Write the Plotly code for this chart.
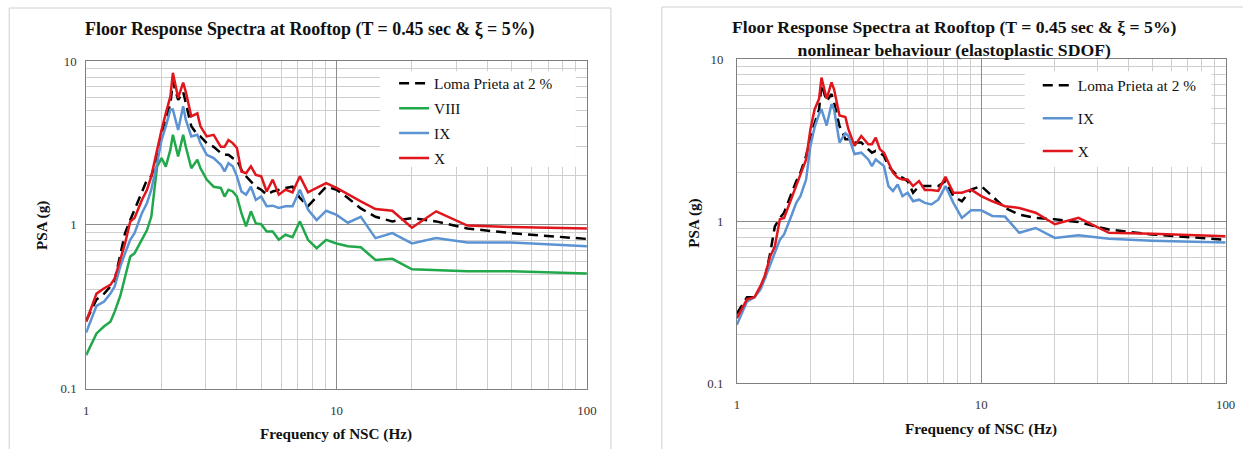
import plotly.graph_objects as go

# Frequency of NSC (Hz)
FREQ = [1.0, 1.1, 1.18, 1.25, 1.3, 1.37, 1.43, 1.5, 1.56, 1.67,
        1.75, 1.82, 1.92, 2.0, 2.08, 2.17, 2.22, 2.33, 2.44, 2.5,
        2.63, 2.78, 2.86, 3.03, 3.23, 3.45, 3.57, 3.7, 3.85, 4.0,
        4.17, 4.35, 4.55, 4.76, 5.0, 5.26, 5.56, 5.88, 6.25, 6.67,
        7.14, 7.69, 8.33, 9.09, 10.0, 11.1, 12.5, 14.3, 16.7, 20,
        25, 33.3, 50, 100]

# Left chart (PSA, g)
LP_LEFT = [0.26, 0.35, 0.38, 0.42, 0.46, 0.67, 0.89, 1.07, 1.24, 1.56,
           1.89, 1.98, 2.62, 3.64, 4.4, 5.5, 7.5, 5.8, 6.5, 5.5,
           4.0, 3.55, 3.47, 3.16, 3.0, 2.75, 2.68, 2.68, 2.56, 2.5,
           2.17, 1.98, 1.84, 1.71, 1.64, 1.53, 1.6, 1.64, 1.68, 1.71,
           1.46, 1.30, 1.49, 1.71, 1.64, 1.46, 1.26, 1.12, 1.05, 1.10,
           1.05, 0.95, 0.89, 0.82]
VIII_LEFT = [0.16, 0.217, 0.24, 0.256, 0.295, 0.37, 0.48, 0.64, 0.67, 0.81,
             0.93, 1.12, 2.27, 2.56, 2.27, 2.88, 3.55, 2.62, 3.55, 3.0,
             2.22, 2.5, 2.22, 1.89, 1.71, 1.68, 1.49, 1.64, 1.60, 1.49,
             1.18, 0.98, 1.21, 1.02, 1.01, 0.91, 0.91, 0.81, 0.87, 0.84,
             1.05, 0.81, 0.72, 0.81, 0.77, 0.74, 0.73, 0.61, 0.62, 0.535,
             0.53, 0.52, 0.52, 0.505]
IX_LEFT = [0.22, 0.32, 0.34, 0.38, 0.42, 0.56, 0.67, 0.81, 0.89, 1.18,
           1.36, 1.64, 2.38, 3.3, 4.0, 5.06, 5.06, 3.8, 5.3, 4.4,
           3.47, 3.55, 3.16, 2.68, 2.56, 2.33, 2.12, 2.38, 2.28, 1.98,
           1.6, 1.53, 1.71, 1.42, 1.49, 1.30, 1.31, 1.27, 1.30, 1.30,
           1.64, 1.24, 1.07, 1.22, 1.15, 1.03, 1.12, 0.83, 0.89, 0.77,
           0.83, 0.78, 0.78, 0.74]
X_LEFT = [0.256, 0.38, 0.41, 0.43, 0.47, 0.61, 0.77, 1.05, 1.10, 1.42,
          1.64, 1.98, 2.88, 3.8, 4.8, 6.1, 8.5, 5.97, 7.4, 6.5,
          4.6, 4.8, 4.0, 3.47, 3.55, 3.0, 3.0, 3.3, 3.16, 2.95,
          2.12, 2.07, 2.28, 2.02, 1.98, 1.6, 1.89, 1.53, 1.64, 1.58,
          1.98, 1.58, 1.68, 1.8, 1.68, 1.53, 1.39, 1.25, 1.22, 0.96,
          1.21, 0.99, 0.97, 0.95]

# Right chart (PSA, g) - nonlinear behaviour
LP_RIGHT = [0.27, 0.34, 0.34, 0.39, 0.44, 0.64, 0.93, 1.05, 1.13, 1.50,
            1.77, 2.0, 2.53, 3.36, 4.07, 4.9, 7.0, 5.5, 6.1, 5.4,
            3.87, 3.21, 3.21, 3.06, 3.06, 2.78, 2.65, 2.72, 2.65, 2.53,
            2.19, 2.04, 1.90, 1.86, 1.77, 1.50, 1.65, 1.65, 1.65, 1.65,
            1.77, 1.43, 1.33, 1.57, 1.65, 1.43, 1.21, 1.10, 1.05, 1.03,
            0.99, 0.89, 0.83, 0.77]
IX_RIGHT = [0.23, 0.32, 0.34, 0.38, 0.44, 0.55, 0.64, 0.77, 0.83, 1.08,
            1.30, 1.43, 1.81, 2.92, 3.8, 4.6, 4.9, 3.9, 5.3, 4.9,
            3.06, 3.5, 3.36, 2.6, 2.65, 2.41, 2.19, 2.41, 2.3, 2.19,
            1.65, 1.54, 1.69, 1.43, 1.50, 1.33, 1.36, 1.30, 1.27, 1.36,
            1.65, 1.30, 1.05, 1.17, 1.17, 1.08, 1.07, 0.85, 0.91, 0.79,
            0.82, 0.78, 0.76, 0.74]
X_RIGHT = [0.253, 0.33, 0.34, 0.40, 0.46, 0.61, 0.70, 1.03, 1.05, 1.37,
           1.65, 1.90, 2.41, 3.7, 4.9, 5.7, 7.7, 5.7, 7.2, 6.5,
           4.5, 4.4, 3.7, 2.92, 3.36, 2.99, 2.99, 3.28, 2.78, 2.65,
           2.3, 2.0, 1.86, 1.81, 1.81, 1.65, 1.77, 1.56, 1.56, 1.54,
           1.88, 1.50, 1.50, 1.57, 1.43, 1.33, 1.24, 1.21, 1.13, 0.96,
           1.05, 0.85, 0.84, 0.81]

TITLE_LEFT = "Floor Response Spectra at Rooftop (T = 0.45 sec & ξ = 5%)"
TITLE_RIGHT = ("Floor Response Spectra at Rooftop (T = 0.45 sec & ξ = 5%)<br>"
               "nonlinear behaviour (elastoplastic SDOF)")
XTITLE = "Frequency of NSC (Hz)"
YTITLE = "PSA (g)"

W, H = 1243, 449
FONT = "Liberation Serif, Times New Roman, serif"
BLACK = "#000000"
GREEN = "#21A84A"
BLUE = "#5B93D3"
RED = "#E0161C"

# measured page -> photo mapping of the capture: out = S*page + B
SX, BX = 0.990, 2.8
SY, BY = 0.965, 8.0


def PX(t):
    """paper x fraction for a target photo x pixel"""
    return ((t - BX) / SX) / W


def PY(t):
    """paper y fraction for a target photo y pixel"""
    return 1 - ((t - BY) / SY) / H


def pagey(t):
    return (t - BY) / SY


fig = go.Figure()

left_series = [("Loma Prieta at 2 %", LP_LEFT, BLACK, "10px,6px"),
               ("VIII", VIII_LEFT, GREEN, "solid"),
               ("IX", IX_LEFT, BLUE, "solid"),
               ("X", X_LEFT, RED, "solid")]
for name, vals, color, dash in left_series:
    fig.add_trace(go.Scatter(x=FREQ, y=vals, mode="lines", name=name,
                             line=dict(color=color, width=2.5, dash=dash),
                             xaxis="x", yaxis="y", legend="legend",
                             legendgroup="L" + name))

right_series = [("Loma Prieta at 2 %", LP_RIGHT, BLACK, "10px,6px"),
                ("IX", IX_RIGHT, BLUE, "solid"),
                ("X", X_RIGHT, RED, "solid")]
for name, vals, color, dash in right_series:
    fig.add_trace(go.Scatter(x=FREQ, y=vals, mode="lines", name=name,
                             line=dict(color=color, width=2.5, dash=dash),
                             xaxis="x2", yaxis="y2", legend="legend2",
                             legendgroup="R" + name))


def axis(rng, domain, anchor, standoff):
    return dict(type="log", range=rng, domain=domain, anchor=anchor,
                dtick=1, showgrid=True, gridcolor="#8C8C8C", gridwidth=1,
                minor=dict(dtick="D1", showgrid=True, gridcolor="#CFCFCF",
                           gridwidth=1, ticks=""),
                showline=True, linecolor="#7F7F7F", linewidth=1, mirror=True,
                ticks="", zeroline=False, ticklabelstandoff=standoff,
                tickfont=dict(family=FONT, size=12.8, color="#333333"))


fig.update_layout(
    width=W, height=H, autosize=False,
    margin=dict(l=0, r=0, t=0, b=0),
    paper_bgcolor="white", plot_bgcolor="white",
    showlegend=True,
    xaxis=axis([0, 2], [PX(86), PX(587)], "y", 10),
    yaxis=axis([-1, 1], [PY(388), PY(62)], "x", 6),
    xaxis2=axis([0, 2], [PX(737), PX(1226)], "y2", 9),
    yaxis2=axis([-1, 1], [PY(383), PY(60)], "x2", 10),
    legend=dict(x=PX(401) - 7 / W, y=1 - (pagey(85) - 18) / H,
                xanchor="left", yanchor="top",
                bgcolor="rgba(0,0,0,0)", tracegroupgap=2,
                font=dict(family=FONT, size=15.3, color="#111111")),
    legend2=dict(x=PX(1045) - 7 / W, y=1 - (pagey(87) - 18) / H,
                 xanchor="left", yanchor="top",
                 bgcolor="rgba(0,0,0,0)", tracegroupgap=10,
                 font=dict(family=FONT, size=15.3, color="#111111")),
)

shapes = [
    dict(type="rect", xref="paper", yref="paper", x0=PX(9), x1=PX(611),
         y0=-0.2, y1=PY(9), line=dict(color="#D0D0D0", width=1),
         fillcolor="rgba(0,0,0,0)", layer="below"),
    dict(type="rect", xref="paper", yref="paper", x0=PX(662), x1=1.2,
         y0=-0.2, y1=PY(8), line=dict(color="#D0D0D0", width=1),
         fillcolor="rgba(0,0,0,0)", layer="below"),
    dict(type="rect", xref="paper", yref="paper", x0=PX(380), x1=PX(576),
         y0=PY(167), y1=PY(72), line=dict(width=0),
         fillcolor="white", layer="above"),
    dict(type="rect", xref="paper", yref="paper", x0=PX(1025), x1=PX(1212),
         y0=PY(167), y1=PY(72), line=dict(width=0),
         fillcolor="white", layer="above"),
]
fig.update_layout(shapes=shapes)

ann = []
ann.append(dict(text="<b>" + TITLE_LEFT + "</b>", x=PX(310), y=PY(30),
                xref="paper", yref="paper", showarrow=False,
                xanchor="center", yanchor="middle",
                font=dict(family=FONT, size=17.9, color="#111111")))
ann.append(dict(text="<b>" + TITLE_RIGHT + "</b>", x=PX(955), y=PY(39),
                xref="paper", yref="paper", showarrow=False,
                xanchor="center", yanchor="middle",
                font=dict(family=FONT, size=17.7, color="#111111")))
for (xc, yc) in [(336, 433), (981, 428)]:
    ann.append(dict(text="<b>" + XTITLE + "</b>", x=PX(xc), y=PY(yc),
                    xref="paper", yref="paper", showarrow=False,
                    xanchor="center", yanchor="middle",
                    font=dict(family=FONT, size=15.2, color="#111111")))
for (xc, yc) in [(42, 226), (694, 223)]:
    ann.append(dict(text="<b>" + YTITLE + "</b>", x=PX(xc), y=PY(yc),
                    xref="paper", yref="paper", showarrow=False,
                    textangle=-90, xanchor="center", yanchor="middle",
                    font=dict(family=FONT, size=15.2, color="#111111")))
fig.update_layout(annotations=ann)

fig.write_html(
    "out.html",
    config={"displayModeBar": False},
    post_script=("document.documentElement.style.margin='0';"
                 "document.documentElement.style.overflow='hidden';"
                 "document.body.style.margin='0';"
                 "document.body.style.overflow='hidden';"),
)
